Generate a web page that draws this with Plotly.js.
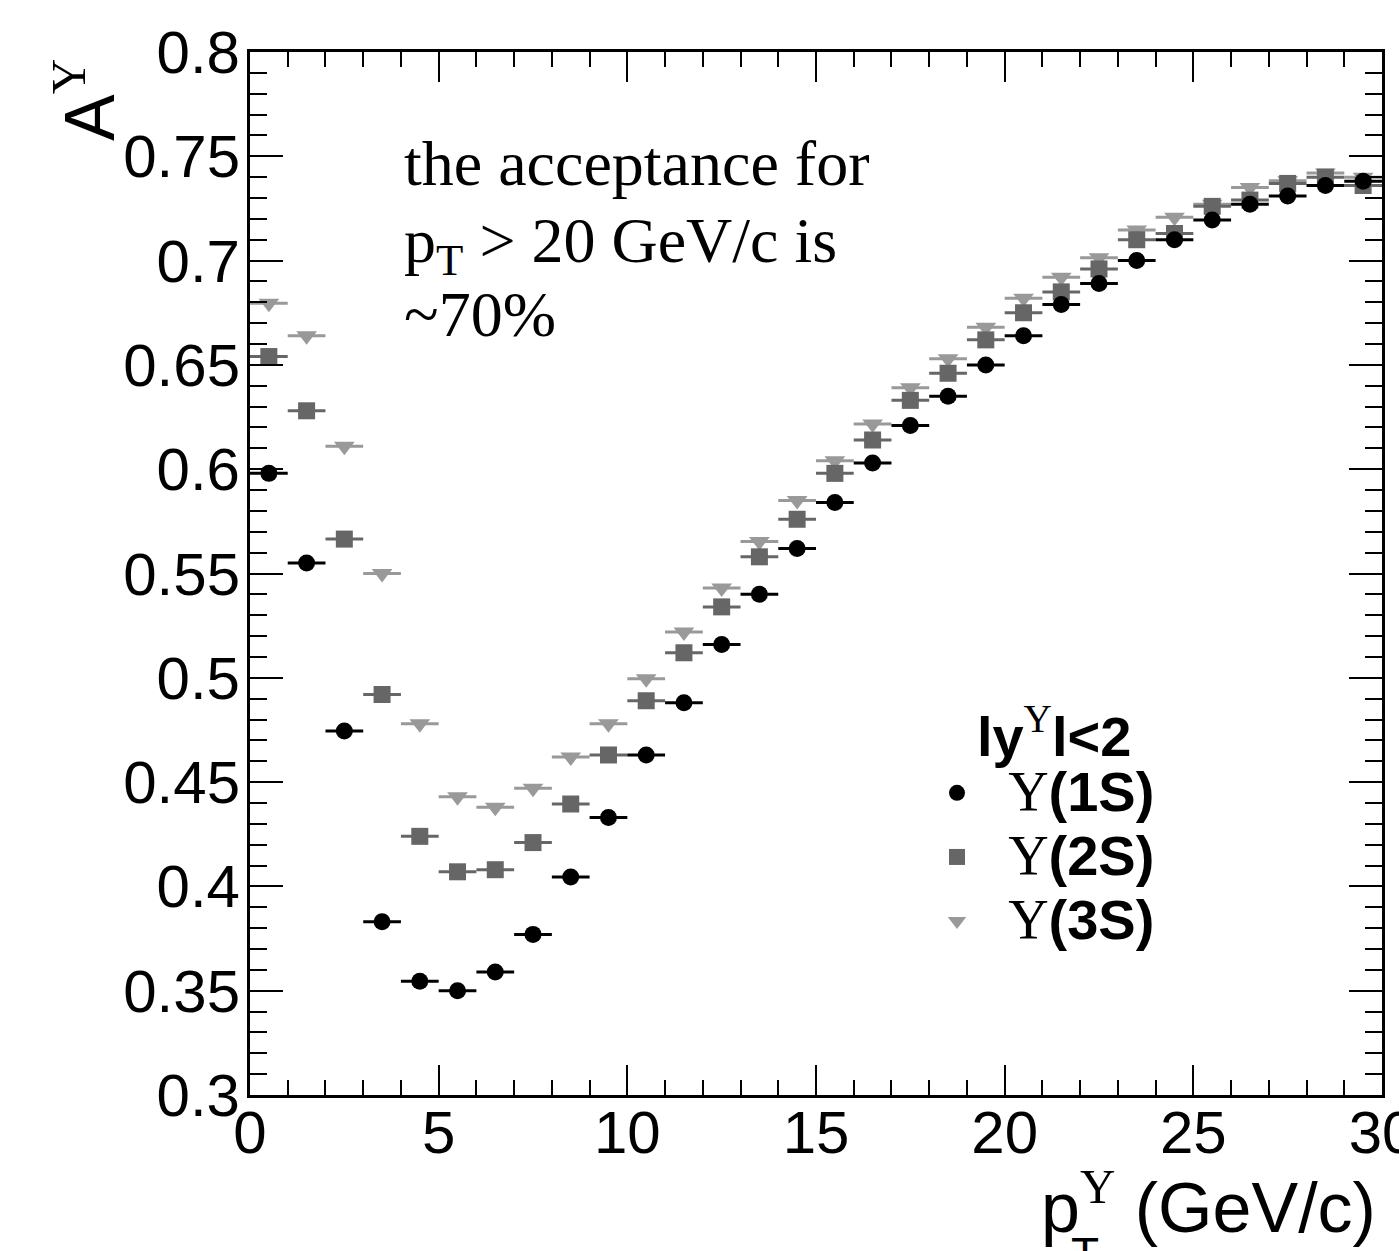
<!DOCTYPE html>
<html>
<head>
<meta charset="utf-8">
<script src="https://cdn.plot.ly/plotly-3.0.1.min.js"></script>
<style>
html,body{margin:0;padding:0;background:#fff;}
#chart{width:1399px;height:1251px;}
</style>
</head>
<body>
<div id="chart"></div>
<script>
// bin centres of pT (GeV/c)
const ptBins = [0.5,1.5,2.5,3.5,4.5,5.5,6.5,7.5,8.5,9.5,10.5,11.5,12.5,13.5,14.5,15.5,16.5,17.5,18.5,19.5,20.5,21.5,22.5,23.5,24.5,25.5,26.5,27.5,28.5,29.5];
// half bin width (horizontal error)
const binHalfWidth = 0.5;
// acceptance values
const acc1S = [0.598,0.555,0.4745,0.383,0.3545,0.350,0.359,0.377,0.4045,0.433,0.463,0.488,0.516,0.540,0.562,0.584,0.603,0.621,0.635,0.650,0.664,0.679,0.689,0.700,0.710,0.7195,0.727,0.731,0.736,0.738];
const acc2S = [0.654,0.628,0.5665,0.492,0.424,0.407,0.408,0.421,0.4395,0.463,0.489,0.512,0.534,0.558,0.576,0.598,0.614,0.633,0.646,0.662,0.675,0.685,0.696,0.710,0.713,0.726,0.729,0.737,0.740,0.736];
const acc3S = [0.6795,0.664,0.611,0.550,0.478,0.443,0.438,0.447,0.462,0.478,0.4995,0.522,0.543,0.5654,0.585,0.604,0.6217,0.639,0.653,0.668,0.682,0.692,0.7014,0.7147,0.7208,0.727,0.735,0.7383,0.742,0.740];
const seriesNames = ["Υ(1S)","Υ(2S)","Υ(3S)"];
const noteLines = ["the acceptance for", "p<sub>T</sub> &gt; 20 GeV/c is", "~70%"];

const SERIF = "Liberation Serif";
const SANS = "Liberation Sans, Arial, sans-serif";
function upsName(label){
  const part = label.slice(1);
  return "<span style=\"font-size:56px\">\u00a0\u00a0<span style=\"font-family:" + SERIF + "\">Υ</span><b>" + part + "</b></span>";
}

function mk(y, name, symbol, size, color, rank){
  return {
    type:'scatter', mode:'markers', x: ptBins, y: y, name: upsName(name),
    legendrank: rank,
    marker:{symbol:symbol, size:size, color:color},
    error_x:{type:'constant', value:binHalfWidth, width:0, thickness:3, color:color},
    hoverinfo:'skip'
  };
}

const data = [
  mk(acc3S, seriesNames[2], 'triangle-down', 18, '#999999', 3),
  mk(acc2S, seriesNames[1], 'square', 17, '#666666', 2),
  mk(acc1S, seriesNames[0], 'circle', 17, '#000000', 1)
];

const L=250, R=1382, T=52, B=1095;
const W=1399, H=1251;
function px(xp){ return (xp-L)/(R-L); }
function py(yp){ return (B-yp)/(B-T); }

const noteTops = [126, 203, 277];
const noteAnns = noteLines.map((t,i)=>({
  xref:'paper', yref:'paper', x:px(402), y:py(noteTops[i]), xanchor:'left', yanchor:'top', align:'left',
  text:t, showarrow:false, font:{family:SERIF, size:64, color:'#000'}
}));

const layout = {
  width: W, height: H,
  margin:{l:L, r:W-R, t:T, b:H-B, pad:0},
  paper_bgcolor:'#ffffff', plot_bgcolor:'#ffffff',
  font:{family:SANS, color:'#000'},
  showlegend:true,
  legend:{
    x: px(937), y: py(683), xanchor:'left', yanchor:'top',
    bgcolor:'rgba(0,0,0,0)', borderwidth:0,
    font:{family:SANS, size:47, color:'#000'},
    title:{text:"\u2009<b>ly<sup><span style=\"font-family:" + SERIF + ";font-weight:normal\">Υ</span></sup>l&lt;2</b>", side:'top center', font:{family:SANS, size:56, color:'#000'}},
    traceorder:'normal', itemsizing:'trace'
  },
  xaxis:{
    range:[0,30], tick0:0, dtick:5, ticks:'inside', ticklen:30, tickwidth:2, tickcolor:'#000',
    showline:true, linewidth:3, linecolor:'#000', mirror:'ticks',
    showgrid:false, zeroline:false,
    tickfont:{family:SANS, size:60, color:'#000'},
    minor:{dtick:1, ticks:'inside', ticklen:15, tickwidth:2, tickcolor:'#000', showgrid:false},
    ticklabelstandoff: -17, ticklabeloverflow:'allow'
  },
  yaxis:{
    range:[0.3,0.8], tick0:0.3, dtick:0.05, ticks:'inside', ticklen:33, tickwidth:2, tickcolor:'#000',
    showline:true, linewidth:3, linecolor:'#000', mirror:'ticks',
    showgrid:false, zeroline:false,
    tickfont:{family:SANS, size:60, color:'#000'},
    minor:{dtick:0.01, ticks:'inside', ticklen:17, tickwidth:2, tickcolor:'#000', showgrid:false},
    ticklabelstandoff: -5, ticklabeloverflow:'allow'
  },
  annotations:[
    {xref:'paper', yref:'paper', x:px(85), y:py(100), xanchor:'center', yanchor:'middle',
     text:"A<sup><span style=\"font-family:" + SERIF + "\">Υ</span></sup>", textangle:-90, showarrow:false,
     font:{family:SANS, size:70, color:'#000'}},
    {xref:'paper', yref:'paper', x:px(1378), y:py(1249), xanchor:'right', yanchor:'bottom',
     text:"p<sup><span style=\"font-family:" + SERIF + "\">Υ</span></sup> (GeV/c)", showarrow:false,
     font:{family:SANS, size:70, color:'#000'}},
    {xref:'paper', yref:'paper', x:px(1069), y:py(1226), xanchor:'left', yanchor:'top',
     text:"T", showarrow:false,
     font:{family:SANS, size:46, color:'#000'}}
  ].concat(noteAnns)
};

Plotly.newPlot('chart', data, layout, {staticPlot:true, displayModeBar:false});
</script>
</body>
</html>
